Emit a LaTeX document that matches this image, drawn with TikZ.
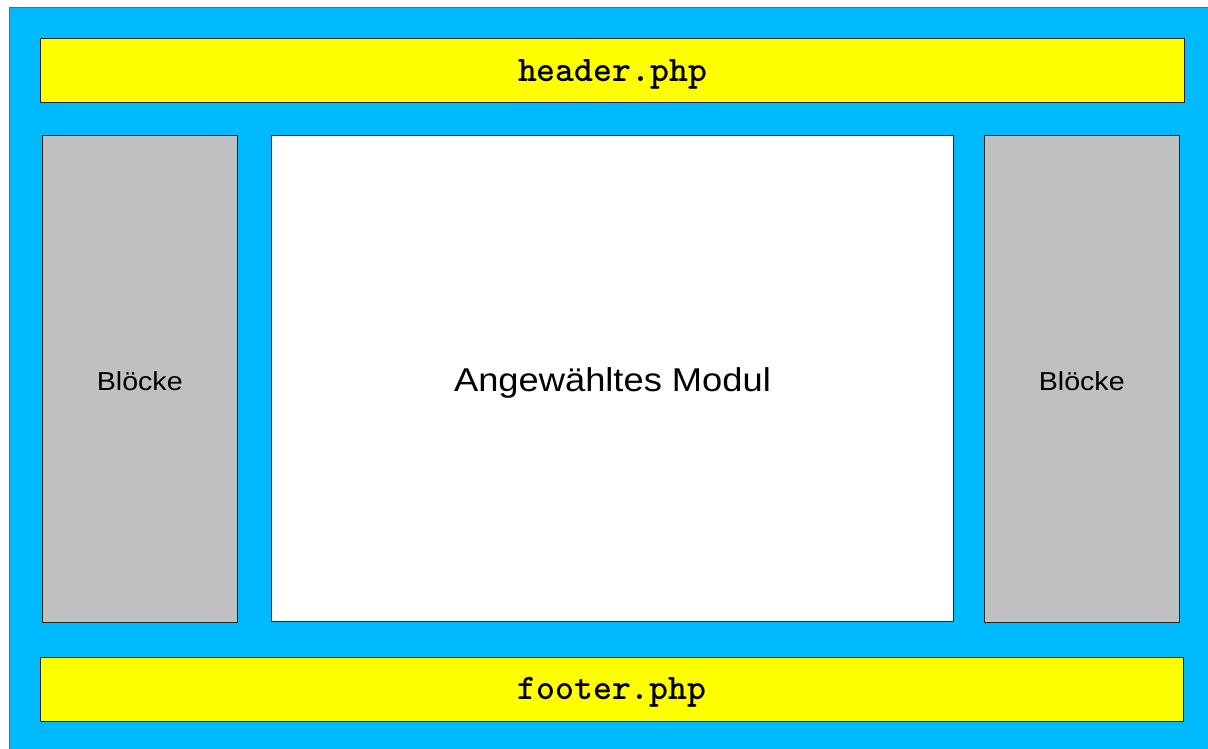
\documentclass[tikz,border=0pt]{standalone}
\usepackage{fontspec}
\setmainfont{Liberation Sans}
\newfontfamily\labelfont[FakeStretch=1.1]{Liberation Sans}
\definecolor{pageblue}{RGB}{0,186,255}
\definecolor{bandyellow}{RGB}{255,255,0}
\definecolor{blockgray}{RGB}{192,192,192}
\tikzset{
  region/.style={draw=black!85, line width=1pt, inner sep=0pt, outer sep=0pt, anchor=north west},
  band/.style={region, fill=bandyellow},
  sidebar/.style={region, fill=blockgray},
  content/.style={region, fill=white},
  codelabel/.style={font=\ttfamily\bfseries\fontsize{36}{40}\selectfont, yshift=-3.5pt},
  sidelabel/.style={font=\labelfont\fontsize{26}{30}\selectfont, yshift=-2pt},
  mainlabel/.style={font=\labelfont\fontsize{33}{38}\selectfont, yshift=-4pt},
}
\begin{document}
\begin{tikzpicture}[x=1pt, y=-1pt]
  \useasboundingbox (0,0) rectangle (1208,749);
  % page background
  \node[region, draw=black!60, fill=pageblue, minimum width=1210pt, minimum height=752pt] (page) at (9.5,7.5) {};
  % header and footer bands
  \node[band, minimum width=1144pt, minimum height=64pt] (header) at (40.5,38.5) {};
  \node[codelabel] (headertext) at (header.center) {header.php};
  \node[band, minimum width=1143pt, minimum height=63.5pt] (footer) at (40.5,657.5) {};
  \node[codelabel] (footertext) at (footer.center) {footer.php};
  % side columns
  \node[sidebar, minimum width=194.5pt, minimum height=487pt] (left) at (42.5,135.5) {};
  \node[sidelabel] (lefttext) at (left.center) {Blöcke};
  \node[sidebar, minimum width=194.5pt, minimum height=487pt] (right) at (984.5,135.5) {};
  \node[sidelabel] (righttext) at (right.center) {Blöcke};
  % main content area
  \node[content, minimum width=682pt, minimum height=485pt] (main) at (271.5,136) {};
  \node[mainlabel] (maintext) at (main.center) {Angewähltes Modul};
\end{tikzpicture}
\end{document}
